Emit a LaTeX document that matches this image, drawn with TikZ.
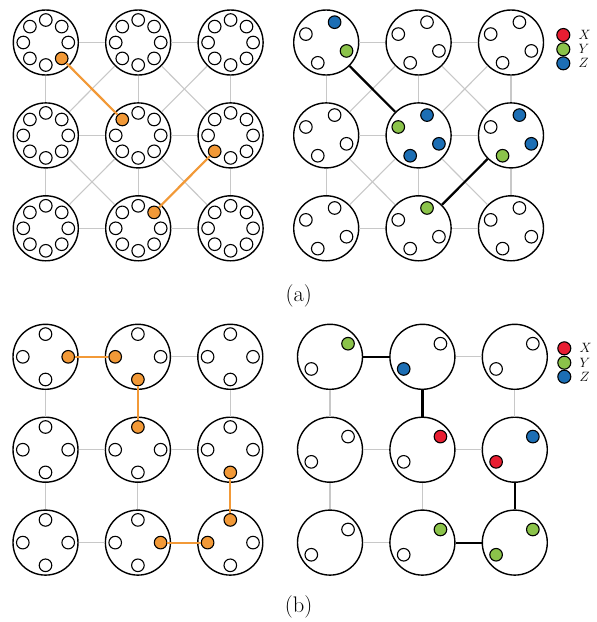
\RequirePackage{fix-cm}
\documentclass[tikz,border=0pt]{standalone}
\definecolor{myorange}{RGB}{242,153,55}
\definecolor{mygreen}{RGB}{139,195,74}
\definecolor{myblue}{RGB}{28,110,180}
\definecolor{myred}{RGB}{232,30,50}
\definecolor{edgegray}{RGB}{200,200,200}
\begin{document}
\begin{tikzpicture}[x=1pt,y=-1pt,
  big/.style={circle,draw=black,line width=1.4pt,fill=white,minimum size=65pt,inner sep=0pt},
  small/.style={circle,draw=black,line width=1.1pt,fill=white,minimum size=12.6pt,inner sep=0pt},
  legdot/.style={circle,draw=black,line width=1.1pt,minimum size=13pt,inner sep=0pt},
  leglabel/.style={anchor=west,inner sep=0pt,font=\fontsize{13.5}{15}\selectfont},
  grayedge/.style={draw=edgegray,line width=1.1pt},
  orangeedge/.style={draw=myorange,line width=2.2pt},
  blackedge/.style={draw=black,line width=2.2pt},
  caption/.style={font=\fontsize{22.5}{26}\selectfont,inner sep=0pt},
  % coloured small circles
  fa00-315/.style={fill=myorange}, fa11-135/.style={fill=myorange},
  fa12-225/.style={fill=myorange}, fa21-45/.style={fill=myorange},
  fb00-1/.style={fill=myblue}, fb00-4/.style={fill=mygreen},
  fb11-1/.style={fill=myblue}, fb11-2/.style={fill=mygreen},
  fb11-3/.style={fill=myblue}, fb11-4/.style={fill=myblue},
  fb12-1/.style={fill=myblue}, fb12-3/.style={fill=mygreen},
  fb12-4/.style={fill=myblue}, fb21-1/.style={fill=mygreen},
  fc00-0/.style={fill=myorange}, fc01-180/.style={fill=myorange},
  fc01-270/.style={fill=myorange}, fc11-90/.style={fill=myorange},
  fc12-270/.style={fill=myorange}, fc22-90/.style={fill=myorange},
  fc22-180/.style={fill=myorange}, fc21-0/.style={fill=myorange},
  fd00-1/.style={fill=mygreen}, fd01-2/.style={fill=myblue},
  fd11-1/.style={fill=myred}, fd12-1/.style={fill=myblue},
  fd12-2/.style={fill=myred}, fd21-1/.style={fill=mygreen},
  fd22-1/.style={fill=mygreen}, fd22-2/.style={fill=mygreen}]
\useasboundingbox (0,0) rectangle (597,622);

% ---- big circles ----
\foreach \p/\xo/\yo in {a/45.8/42.5, b/326.2/42.5, c/45.5/356.8, d/330/356.8}{
  \foreach \r in {0,1,2}{
    \foreach \c in {0,1,2}{
      \node[big] (\p\r\c) at ({\xo+92.4*\c},{\yo+92.9*\r}) {};
    }
  }
}

% ---- gray grid edges ----
\foreach \p in {a,b,c,d}{
  \foreach \r in {0,1,2}{
    \foreach \c/\n in {0/1,1/2}{
      \draw[grayedge] (\p\r\c) -- (\p\r\n);
      \draw[grayedge] (\p\c\r) -- (\p\n\r);
    }
  }
}
\foreach \p in {a,b}{
  \foreach \r/\s in {0/1,1/2}{
    \foreach \c/\n in {0/1,1/2}{
      \draw[grayedge] (\p\r\c) -- (\p\s\n);
      \draw[grayedge] (\p\r\n) -- (\p\s\c);
    }
  }
}

% ---- small circles ----
\foreach \r in {0,1,2}{
  \foreach \c in {0,1,2}{
    \foreach \ang in {0,45,...,315}{
      \node[small,fa\r\c-\ang/.try] (a\r\c-\ang) at ([shift={(\ang:22.5pt)}]a\r\c.center) {};
    }
    \foreach \k in {1,2,3,4}{
      \node[small,fb\r\c-\k/.try] (b\r\c-\k) at ([shift={({67.5+90*(\k-1)}:22pt)}]b\r\c.center) {};
    }
    \foreach \ang in {0,90,180,270}{
      \node[small,fc\r\c-\ang/.try] (c\r\c-\ang) at ([shift={(\ang:22.7pt)}]c\r\c.center) {};
    }
    \foreach \k/\ang in {1/36,2/213}{
      \node[small,fd\r\c-\k/.try] (d\r\c-\k) at ([shift={(\ang:22.3pt)}]d\r\c.center) {};
    }
  }
}

% ---- highlighted connectors ----
\draw[orangeedge] (a00-315) -- (a11-135);
\draw[orangeedge] (a12-225) -- (a21-45);
\draw[blackedge] (b00) -- (b11);
\draw[blackedge] (b12) -- (b21);
\draw[orangeedge] (c00-0) -- (c01-180);
\draw[orangeedge] (c01-270) -- (c11-90);
\draw[orangeedge] (c12-270) -- (c22-90);
\draw[orangeedge] (c21-0) -- (c22-180);
\draw[blackedge] (d00) -- (d01);
\draw[blackedge] (d01) -- (d11);
\draw[blackedge] (d12) -- (d22);
\draw[blackedge] (d21) -- (d22);

% ---- legends ----
\node[legdot,fill=myred]   (lax) at (563.3,35) {};
\node[legdot,fill=mygreen] (lay) at (563.3,49.3) {};
\node[legdot,fill=myblue]  (laz) at (563.3,63.3) {};
\node[leglabel] (tax) at (578.5,35) {$X$};
\node[leglabel] (tay) at (578.5,49.3) {$Y$};
\node[leglabel] (taz) at (578.5,63.3) {$Z$};
\node[legdot,fill=myred]   (lbx) at (564.3,348.3) {};
\node[legdot,fill=mygreen] (lby) at (564.3,362.7) {};
\node[legdot,fill=myblue]  (lbz) at (564.3,376.7) {};
\node[leglabel] (tbx) at (579.5,348.3) {$X$};
\node[leglabel] (tby) at (579.5,362.7) {$Y$};
\node[leglabel] (tbz) at (579.5,376.7) {$Z$};

% ---- captions ----
\node[caption] (capa) at (298.7,296) {(a)};
\node[caption] (capb) at (298.7,607) {(b)};
\end{tikzpicture}
\end{document}
